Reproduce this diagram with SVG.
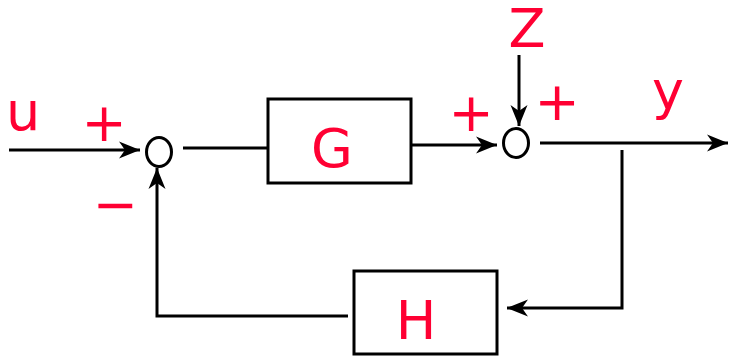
<svg xmlns="http://www.w3.org/2000/svg" width="731" height="356" viewBox="0 0 731 356">
<style>
.ln{fill:none;stroke:#000;stroke-width:3}
.bx{fill:#fff;stroke:#000;stroke-width:3}
.t{font-family:"DejaVu Sans",sans-serif;font-size:54px;fill:#ff0033;text-anchor:middle}
</style>
<defs>
<marker id="ah" markerUnits="userSpaceOnUse" markerWidth="30" markerHeight="30" viewBox="-25 -15 30 30" refX="0" refY="0" orient="auto" overflow="visible">
<path d="M0,0 L-21,-8.5 L-15,0 L-21,8.5 Z" fill="#000"/>
</marker>
</defs>
<g id="connectors">
<path class="ln" d="M9,150 H140" marker-end="url(#ah)"/>
<path class="ln" d="M183,148 H268"/>
<path class="ln" d="M412,145 H497" marker-end="url(#ah)"/>
<path class="ln" d="M519,55 V126" marker-end="url(#ah)"/>
<path class="ln" d="M540,143 H728" marker-end="url(#ah)"/>
<path class="ln" d="M622,150 V308 H507" marker-end="url(#ah)"/>
<path class="ln" d="M348,316 H157 V168" marker-end="url(#ah)"/>
</g>
<g id="sum1"><ellipse class="ln" cx="159" cy="152" rx="12.5" ry="14.5"/></g>
<g id="sum2"><ellipse class="ln" cx="516" cy="143" rx="12.5" ry="14.5"/></g>
<g id="G"><rect class="bx" x="268" y="99" width="143" height="84"/><text class="t" x="332" y="167">G</text></g>
<g id="H"><rect class="bx" x="354" y="271" width="143" height="83"/><text class="t" x="416" y="339">H</text></g>
<g id="labels">
<text class="t" x="23" y="130">u</text>
<text class="t" x="104" y="141">+</text>
<text class="t" x="115" y="223">−</text>
<text class="t" x="471" y="131">+</text>
<text class="t" x="557" y="120">+</text>
<text class="t" x="527" y="47">Z</text>
<text class="t" x="668" y="109">y</text>
</g>
</svg>
